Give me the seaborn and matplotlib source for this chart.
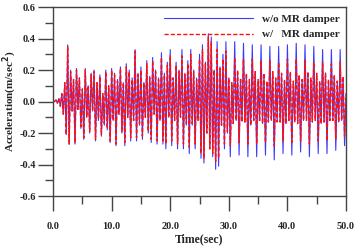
import numpy as np
import pandas as pd
import matplotlib
matplotlib.use("Agg")
import matplotlib.pyplot as plt
import seaborn as sns
from matplotlib.ticker import MultipleLocator, FormatStrFormatter

sns.set_style("ticks")
plt.rcParams['font.family'] = ['Liberation Serif', 'DejaVu Serif']
plt.rcParams['font.weight'] = 'bold'

time = np.arange(0, 50.25, 0.25)

acc_without = [
    0.00, 0.00, 0.01, -0.01, 0.02, -0.03, 0.05, -0.08, 0.12, -0.21, 0.36, -0.27, 0.20, -0.06, 0.14, -0.27, 0.21, -0.05, 0.15, -0.17,
    0.08, -0.24, 0.21, -0.10, 0.10, -0.20, 0.18, -0.06, 0.20, -0.25, 0.12, -0.12, 0.17, -0.22, 0.05, -0.15, 0.20, -0.18, 0.10, -0.26,
    0.21, -0.12, 0.18, -0.28, 0.14, -0.08, 0.22, -0.20, 0.12, -0.28, 0.24, -0.10, 0.20, -0.25, 0.15, -0.12, 0.33, -0.25, 0.18, -0.15,
    0.22, -0.24, 0.12, -0.10, 0.26, -0.20, 0.16, -0.26, 0.28, -0.08, 0.20, -0.27, 0.15, -0.12, 0.31, -0.27, 0.18, -0.30, 0.25, -0.10,
    0.33, -0.28, 0.15, -0.12, 0.25, -0.30, 0.20, -0.10, 0.33, -0.30, 0.18, -0.15, 0.26, -0.33, 0.33, -0.15, 0.20, -0.30, 0.15, -0.12,
    0.30, -0.36, 0.36, -0.39, 0.25, -0.20, 0.43, -0.30, 0.41, -0.35, 0.20, -0.43, 0.38, -0.41, 0.22, -0.15, 0.30, -0.30, 0.38, -0.20,
    0.15, -0.35, 0.12, -0.14, 0.38, -0.12, 0.18, -0.34, 0.14, -0.12, 0.37, -0.13, 0.17, -0.35, 0.12, -0.15, 0.36, -0.12, 0.19, -0.35,
    0.13, -0.12, 0.36, -0.14, 0.16, -0.34, 0.12, -0.13, 0.35, -0.12, 0.18, -0.37, 0.14, -0.12, 0.35, -0.13, 0.17, -0.33, 0.13, -0.14,
    0.36, -0.12, 0.18, -0.34, 0.12, -0.13, 0.37, -0.14, 0.16, -0.32, 0.13, -0.12, 0.36, -0.12, 0.18, -0.35, 0.14, -0.13, 0.35, -0.12,
    0.17, -0.33, 0.12, -0.14, 0.33, -0.13, 0.18, -0.33, 0.13, -0.12, 0.33, -0.12, 0.16, -0.31, 0.12, -0.13, 0.33, -0.12, 0.15, -0.28,
    0.05,
]

acc_with = [
    0.00, 0.00, 0.01, -0.01, 0.02, -0.03, 0.05, -0.08, 0.12, -0.21, 0.35, -0.27, 0.19, -0.06, 0.14, -0.26, 0.20, -0.05, 0.15, -0.16,
    0.08, -0.23, 0.20, -0.10, 0.10, -0.19, 0.17, -0.06, 0.19, -0.24, 0.12, -0.11, 0.16, -0.21, 0.05, -0.14, 0.19, -0.17, 0.10, -0.25,
    0.20, -0.12, 0.17, -0.27, 0.13, -0.08, 0.21, -0.19, 0.12, -0.26, 0.22, -0.10, 0.19, -0.23, 0.14, -0.12, 0.32, -0.23, 0.17, -0.14,
    0.20, -0.22, 0.12, -0.10, 0.24, -0.19, 0.15, -0.24, 0.26, -0.08, 0.19, -0.25, 0.14, -0.12, 0.28, -0.25, 0.17, -0.27, 0.23, -0.10,
    0.29, -0.25, 0.15, -0.12, 0.23, -0.27, 0.19, -0.10, 0.29, -0.27, 0.17, -0.14, 0.24, -0.29, 0.30, -0.14, 0.19, -0.27, 0.14, -0.12,
    0.27, -0.33, 0.33, -0.36, 0.24, -0.20, 0.41, -0.30, 0.38, -0.33, 0.20, -0.38, 0.33, -0.36, 0.21, -0.15, 0.27, -0.27, 0.32, -0.19,
    0.15, -0.28, 0.12, -0.14, 0.28, -0.12, 0.20, -0.26, 0.15, -0.13, 0.27, -0.13, 0.18, -0.27, 0.14, -0.15, 0.27, -0.12, 0.19, -0.27,
    0.14, -0.13, 0.26, -0.14, 0.18, -0.26, 0.13, -0.13, 0.26, -0.12, 0.19, -0.28, 0.15, -0.13, 0.25, -0.13, 0.18, -0.25, 0.14, -0.14,
    0.27, -0.12, 0.19, -0.26, 0.13, -0.13, 0.27, -0.14, 0.17, -0.25, 0.14, -0.12, 0.26, -0.12, 0.19, -0.27, 0.15, -0.13, 0.25, -0.12,
    0.18, -0.25, 0.13, -0.14, 0.25, -0.13, 0.18, -0.25, 0.14, -0.12, 0.24, -0.12, 0.17, -0.24, 0.13, -0.13, 0.25, -0.12, 0.16, -0.22,
    0.05,
]

x_ticks = [0, 10, 20, 30, 40, 50]
y_ticks = [-0.6, -0.4, -0.2, 0.0, 0.2, 0.4, 0.6]

fig = plt.figure(figsize=(3.56, 2.52), dpi=100)
ax = fig.add_axes([0.149, 0.222, 0.823, 0.750])

sns.lineplot(x=time, y=acc_without, ax=ax, color='#3a3aff', linewidth=0.8,
             label='w/o MR damper')
sns.lineplot(x=time, y=acc_with, ax=ax, color='#ff1010', linewidth=1.0,
             linestyle=(0, (3, 1.5)), label='w/   MR damper')

ax.set_xlim(0, 50)
ax.set_ylim(-0.6, 0.6)
ax.set_xticks(x_ticks)
ax.set_yticks(y_ticks)
ax.xaxis.set_minor_locator(MultipleLocator(5))
ax.yaxis.set_minor_locator(MultipleLocator(0.1))
ax.xaxis.set_major_formatter(FormatStrFormatter('%.1f'))
ax.yaxis.set_major_formatter(FormatStrFormatter('%.1f'))

ax.tick_params(axis='both', which='major', direction='out', length=10.5, width=1,
               labelsize=7.5, color='#444444')
ax.tick_params(axis='x', which='major', pad=8)
ax.tick_params(axis='y', which='major', pad=2)
ax.tick_params(axis='both', which='minor', direction='out', length=6, width=1,
               color='#444444')
for s in ax.spines.values():
    s.set_linewidth(1)
    s.set_color('#444444')

ax.set_xlabel('Time(sec)', fontsize=8.5, fontweight='bold', labelpad=2)
ax.set_ylabel('Acceleration(m/sec$^2$)', fontsize=8, fontweight='bold')
ax.yaxis.set_label_coords(-0.115, 0.5)

leg = ax.legend(loc='upper right', frameon=False, fontsize=8, handlelength=8,
                borderaxespad=0.2, labelspacing=0.55, handletextpad=0.8)
for t in leg.get_texts():
    t.set_fontweight('bold')

fig.savefig('out.png', dpi=100)
